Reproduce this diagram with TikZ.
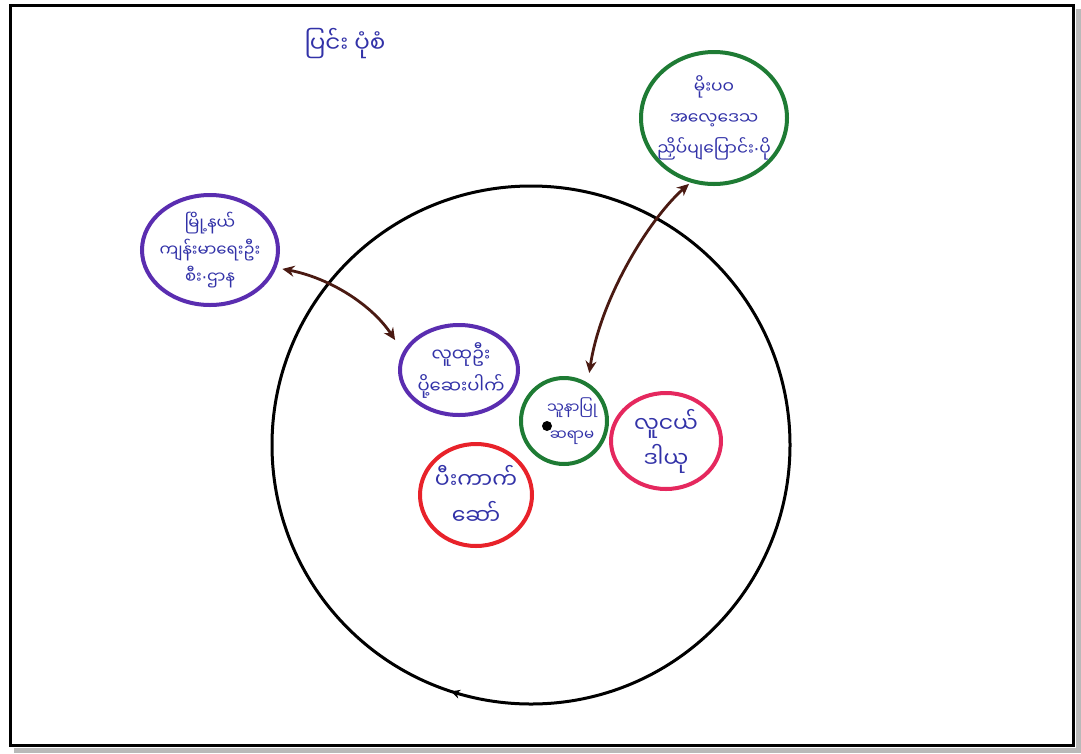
\documentclass[tikz,border=0pt]{standalone}
\usepackage{fontspec}
\newfontfamily\myan[Script=Myanmar]{Noto Sans Myanmar UI}
\newfontfamily\dvs{DejaVu Sans}
\usetikzlibrary{arrows.meta,shapes.geometric,decorations.markings,calc}
\definecolor{ink}{HTML}{3232A8}
\definecolor{purp}{HTML}{5A2DB0}
\definecolor{grn}{HTML}{1E7B34}
\definecolor{redc}{HTML}{E8222A}
\definecolor{pinkc}{HTML}{E5285E}
\definecolor{brn}{HTML}{4A1A12}
\newcommand{\mdot}{{\dvs ·}}
\tikzset{
  bubble/.style={ellipse, line width=4pt, inner sep=0pt},
  txt/.style={text=ink, align=center, font=\myan\fontsize{17}{27}\selectfont},
  dblarrow/.style={draw=brn, line width=2.8pt, {Stealth[length=12pt,width=11pt]}-{Stealth[length=12pt,width=11pt]}}
}
\begin{document}
\begin{tikzpicture}[x=1pt,y=-1pt]
% page and frame
\fill[white] (0,0) rectangle (1081,753);
\fill[gray!55] (14,748) rectangle (1078,753);
\fill[gray!55] (1076,9) rectangle (1081,753);
\draw[line width=3pt, black] (10,5) rectangle (1073,745);

% title
\node[txt, font=\myan\fontsize{23}{28}\selectfont] (title) at (345,44) {ပြင်း ပုံစံ};

% big circle
\draw[line width=3pt, black, decoration={markings, mark=at position 0.3 with {\arrow{Stealth[length=9pt,width=9pt]}}}, postaction=decorate] (531,445) circle [radius=259];

% bubbles
\node[bubble, draw=purp, minimum width=136, minimum height=110] (tl) at (210,250) {};
\node[bubble, draw=grn, minimum width=146, minimum height=132] (tr) at (714,118) {};
\node[bubble, draw=purp, minimum width=118, minimum height=90] (ip) at (459,370) {};
\node[bubble, draw=grn, minimum width=86, minimum height=86] (ce) at (564,421) {};
\node[bubble, draw=pinkc, minimum width=110, minimum height=96] (pk) at (666,441) {};
\node[bubble, draw=redc, minimum width=112, minimum height=102] (rd) at (476,495) {};

% texts
\node[txt, font=\myan\fontsize{16.5}{27}\selectfont] (tlt) at (tl) {မြို့နယ်\\ကျန်းမာရေးဦး\\စီး\mdot ဌာန};
\node[txt, font=\myan\fontsize{17}{31}\selectfont] (trt) at (tr) {မိုးပဝ\\အလေ့ဒေသ\\ညှိပ်ပျပြောင်း\mdot ပို};
\node[txt, font=\myan\fontsize{18}{32}\selectfont] (ipt) at ($(ip)+(2,0)$) {လူထုဦး\\ပို့ဆေးပါက်};
\node[txt, font=\myan\fontsize{15}{27}\selectfont] (cet) at ($(ce)+(8,0)$) {သူနာပြု\\ဆရာမ};
\node[txt, font=\myan\fontsize{22}{35}\selectfont] (pkt) at (pk) {လူငယ်\\ဒါယု};
\node[txt, font=\myan\fontsize{22}{36}\selectfont] (rdt) at (rd) {ပီးကာက်\\ဆော်};

% dot
\fill[black] (547,426) circle [radius=5];

% arrows
\draw[dblarrow, shorten <=6pt, shorten >=14pt] (tl.-15) .. controls (330,278) and (372,305) .. (ip.162);
\draw[dblarrow, shorten <=2pt, shorten >=10pt] (tr.-110) .. controls (648,220) and (600,300) .. (ce.58);
\end{tikzpicture}
\end{document}
